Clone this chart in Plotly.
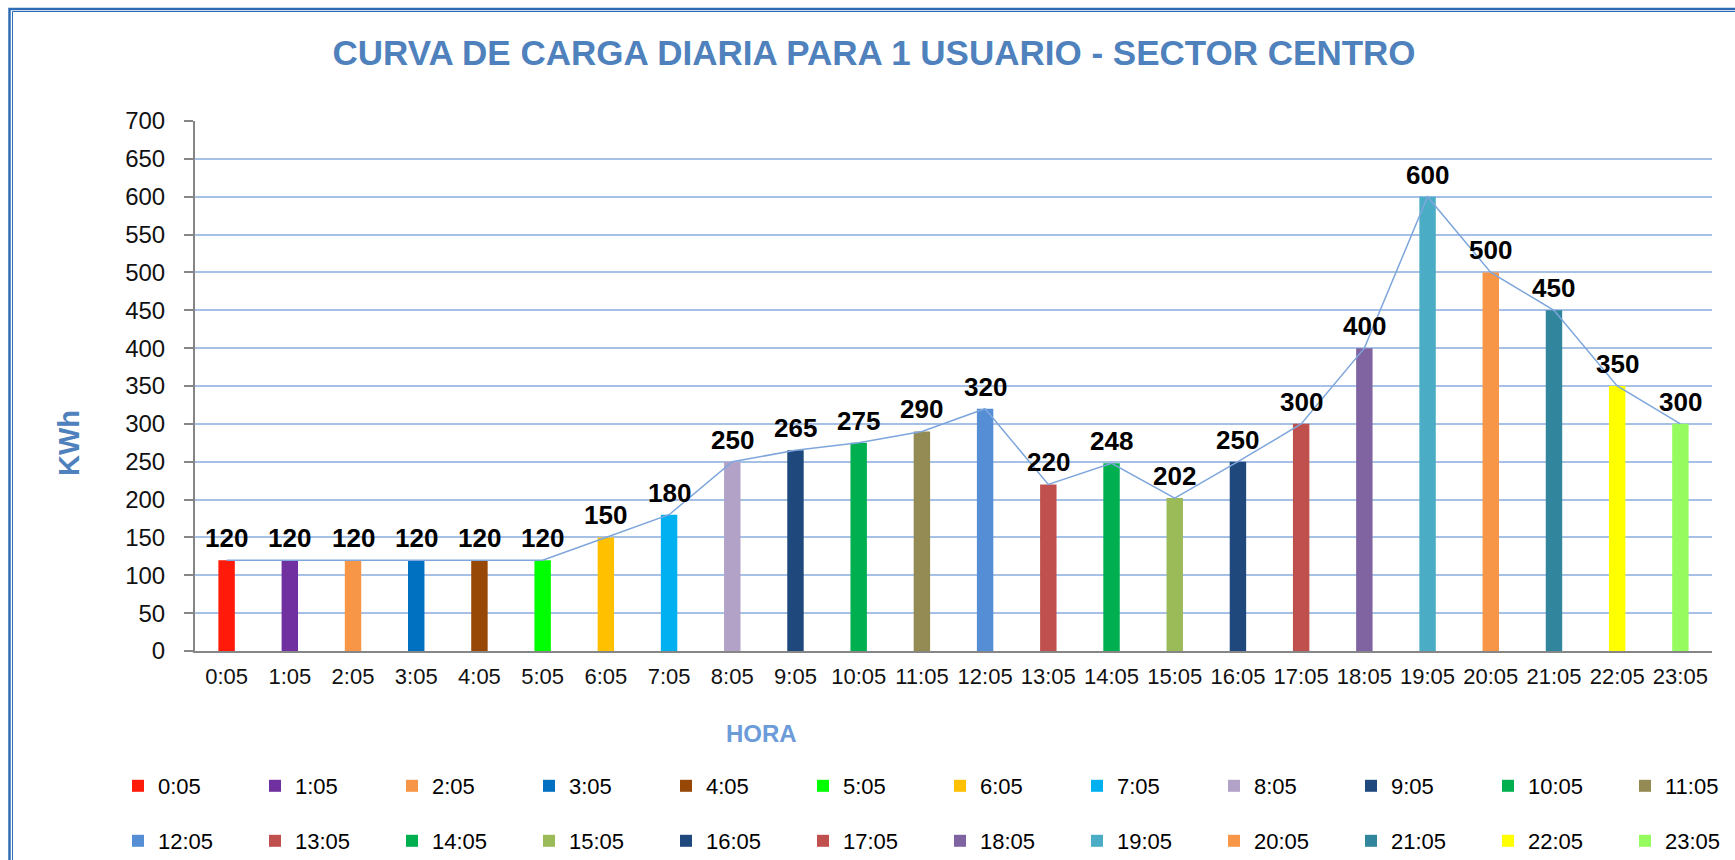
import plotly.graph_objects as go

# Daily load curve for one user, central sector
horas = ["0:05", "1:05", "2:05", "3:05", "4:05", "5:05", "6:05", "7:05",
         "8:05", "9:05", "10:05", "11:05", "12:05", "13:05", "14:05", "15:05",
         "16:05", "17:05", "18:05", "19:05", "20:05", "21:05", "22:05", "23:05"]
consumo_kwh = [120, 120, 120, 120, 120, 120, 150, 180,
               250, 265, 275, 290, 320, 220, 248, 202,
               250, 300, 400, 600, 500, 450, 350, 300]
colores = ["#FF1A0A", "#7030A0", "#F79646", "#0070C0", "#974706", "#00FF00",
           "#FFC000", "#00B0F0", "#B3A2C7", "#1F497D", "#00B050", "#948A54",
           "#558ED5", "#C0504D", "#00B050", "#9BBB59", "#1F497D", "#C0504D",
           "#8064A2", "#4BACC6", "#F79646", "#31859C", "#FFFF00", "#95FB5F"]
ticks_y = list(range(0, 701, 50))

W, H = 1735, 860
L, R, T, B = 195, 1712, 121, 651   # plot area edges in pixels
FONT = "Liberation Sans"
AZUL = "#4F81BD"


def px_x(p):
    return (p - L) / (R - L)


def px_y(p):
    return (B - p) / (B - T)


fig = go.Figure()

# thin connecting line through the bar tops (behind the bars)
fig.add_trace(go.Scatter(
    x=horas, y=consumo_kwh, mode="lines",
    line=dict(color="#7EA6DC", width=1.5),
    showlegend=False, hoverinfo="skip",
))

# one bar per hour so each hour gets its own legend entry
for i, (h, v, c) in enumerate(zip(horas, consumo_kwh, colores)):
    fig.add_trace(go.Bar(
        x=[h], y=[v], name=h, marker=dict(color=c, line=dict(width=0)),
        width=0.26, legend="legend" if i < 12 else "legend2",
    ))

# value labels above each bar
anotaciones = [
    dict(x=h, y=v, xref="x", yref="y", text=f"<b>{v}</b>", showarrow=False,
         xanchor="center", yanchor="bottom", yshift=5,
         font=dict(family=FONT, size=26, color="#000000"))
    for h, v in zip(horas, consumo_kwh)
]
anotaciones.append(dict(
    x=px_x(69), y=px_y(443), xref="paper", yref="paper", text="<b>KWh</b>",
    xanchor="center", yanchor="middle", textangle=-90, showarrow=False,
    font=dict(family=FONT, size=29, color=AZUL)))
anotaciones.append(dict(
    x=px_x(761), y=px_y(733), xref="paper", yref="paper", text="<b>HORA</b>",
    xanchor="center", yanchor="middle", showarrow=False,
    font=dict(family=FONT, size=24, color="#6B9BD8")))

# double blue frame around the chart
marco = [
    dict(type="rect", xref="paper", yref="paper",
         x0=px_x(9.5), x1=px_x(W + 20), y0=px_y(H + 20), y1=px_y(9),
         line=dict(color="#2E6DB4", width=2.5), layer="above"),
    dict(type="rect", xref="paper", yref="paper",
         x0=px_x(12.5), x1=px_x(W + 20), y0=px_y(H + 20), y1=px_y(11.5),
         line=dict(color="#2E6DB4", width=1), layer="above"),
]

leyenda = dict(
    orientation="h", xanchor="left", yanchor="middle",
    entrywidth=92, entrywidthmode="pixels", itemwidth=30,
    font=dict(family=FONT, size=22, color="#000000"),
    bgcolor="rgba(0,0,0,0)", traceorder="normal",
)

fig.update_layout(
    width=W, height=H,
    margin=dict(l=L, r=W - R, t=T, b=H - B, pad=0, autoexpand=False),
    paper_bgcolor="white", plot_bgcolor="white",
    barmode="overlay",
    title=dict(
        text="<b>CURVA DE CARGA DIARIA PARA 1 USUARIO - SECTOR CENTRO</b>",
        xref="container", yref="container", x=874 / W, y=1 - 53 / H,
        xanchor="center", yanchor="middle",
        font=dict(family=FONT, size=35, color=AZUL),
    ),
    xaxis=dict(
        type="category", categoryorder="array", categoryarray=horas,
        range=[-0.5, len(horas) - 0.5],
        showline=True, linecolor="#868686", linewidth=2,
        showgrid=False, ticks="", ticklabelstandoff=5,
        tickfont=dict(family=FONT, size=22, color="#111111"),
    ),
    yaxis=dict(
        range=[0, 700], tickvals=ticks_y,
        showline=True, linecolor="#868686", linewidth=2,
        ticks="outside", ticklen=9, tickcolor="#868686", tickwidth=2,
        showgrid=True, gridcolor="#A7C0E6", gridwidth=2, zeroline=False,
        ticklabelstandoff=14,
        tickfont=dict(family=FONT, size=24, color="#111111"),
    ),
    legend=dict(leyenda, x=px_x(118), y=px_y(786)),
    legend2=dict(leyenda, x=px_x(118), y=px_y(841)),
    annotations=anotaciones,
    shapes=marco,
)

fig.write_html("out.html")
